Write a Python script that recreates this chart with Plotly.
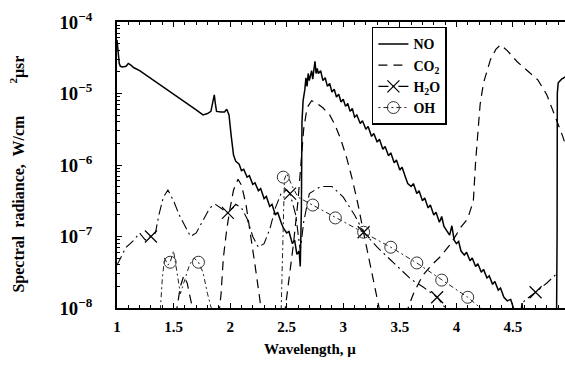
import plotly.graph_objects as go

# ---------------- data (values read as log10 of spectral radiance) ----------------
no_x = [1.00, 1.01, 1.02, 1.03, 1.05, 1.08, 1.10, 1.12, 1.15, 1.20, 1.30, 1.40, 1.50, 1.60, 1.70,
        1.76, 1.80, 1.83, 1.85, 1.86, 1.87, 1.88, 1.92, 1.95, 1.97, 1.99, 2.01, 2.03, 2.05, 2.08,
        2.10, 2.12, 2.15, 2.17, 2.20, 2.22, 2.25, 2.27, 2.30, 2.32, 2.35, 2.37, 2.40, 2.42, 2.45,
        2.47, 2.50, 2.52, 2.55, 2.57, 2.59, 2.61, 2.62, 2.63, 2.635, 2.645, 2.66, 2.67, 2.68, 2.69,
        2.70, 2.71, 2.72, 2.73, 2.74, 2.75, 2.76, 2.77, 2.78, 2.80, 2.82, 2.84, 2.86, 2.88, 2.90,
        2.92, 2.94, 2.96, 2.98, 3.00, 3.02, 3.04, 3.06, 3.08, 3.10, 3.12, 3.15, 3.17, 3.20, 3.22,
        3.25, 3.27, 3.30, 3.32, 3.35, 3.37, 3.40, 3.42, 3.45, 3.47, 3.50, 3.52, 3.55, 3.57, 3.60,
        3.62, 3.65, 3.67, 3.70, 3.72, 3.75, 3.77, 3.80, 3.82, 3.85, 3.87, 3.89, 3.92, 3.94, 3.96,
        3.98, 4.00, 4.02, 4.04, 4.07, 4.09, 4.12, 4.14, 4.17, 4.19, 4.22, 4.24, 4.27, 4.29, 4.32,
        4.34, 4.37, 4.39, 4.42, 4.45, 4.48, 4.50, 4.52, 4.56, 4.57, 4.58, 4.59, 4.885, 4.89, 4.892,
        4.90, 4.93, 4.97]
no_log = [-4.25, -4.45, -4.58, -4.62, -4.63, -4.62, -4.58, -4.60, -4.64, -4.68, -4.79, -4.90, -5.00, -5.12, -5.23,
          -5.30, -5.28, -5.25, -5.12, -5.02, -5.15, -5.25, -5.26, -5.26, -5.22, -5.30, -5.60, -5.86, -5.95, -5.99,
          -6.08, -6.06, -6.17, -6.15, -6.27, -6.25, -6.36, -6.33, -6.47, -6.44, -6.58, -6.55, -6.70, -6.66, -6.80,
          -6.88, -6.95, -6.93, -7.10, -7.05, -7.25, -7.20, -7.42, -6.60, -5.40, -5.10, -4.95, -4.78, -4.90, -4.72,
          -4.82, -4.75, -4.68, -4.80, -4.62, -4.55, -4.72, -4.65, -4.72, -4.68, -4.82, -4.78, -4.90, -4.86, -4.98,
          -4.94, -5.05, -5.01, -5.12, -5.08, -5.18, -5.14, -5.25, -5.21, -5.33, -5.30, -5.42, -5.38, -5.50, -5.46,
          -5.60, -5.56, -5.68, -5.64, -5.78, -5.74, -5.87, -5.83, -5.97, -5.93, -6.07, -6.03, -6.17, -6.26, -6.30,
          -6.26, -6.40, -6.36, -6.50, -6.46, -6.60, -6.56, -6.70, -6.66, -6.80, -6.72, -6.86, -6.93, -6.98, -6.85,
          -7.05, -7.10, -7.07, -7.20, -7.26, -7.22, -7.34, -7.30, -7.42, -7.38, -7.50, -7.46, -7.58, -7.55, -7.67,
          -7.63, -7.75, -7.72, -7.85, -7.90, -7.88, -7.98, -8.10, None, -8.10, -7.93, -8.10, -8.20, -7.00, -5.00,
          -4.85, -4.80, -4.76]

co2_x = [1.52, 1.56, 1.59, 1.62, 1.66, 1.68, None,
         1.90, 1.92, 1.94, 1.97, 2.00, 2.03, 2.07, 2.10, 2.14, 2.18, 2.22, 2.26, 2.28, None,
         2.48, 2.52, 2.56, 2.60, 2.63, 2.65, 2.68, 2.72, 2.76, 2.82, 2.88, 2.93, 2.98, 3.03, 3.08,
         3.13, 3.18, 3.23, 3.28, 3.33, None,
         3.55, 3.62, 3.70, 3.78, 3.86, 3.95, 4.04, 4.10, 4.15, 4.17, 4.21, 4.24, 4.30, 4.35, 4.39,
         4.45, 4.54, 4.63, 4.72, 4.80, 4.86, 4.94, 4.98]
co2_log = [-8.1, -7.7, -7.55, -7.65, -7.95, -8.1, None,
           -8.1, -7.8, -7.3, -6.9, -6.6, -6.35, -6.2, -6.28, -6.55, -6.95, -7.4, -7.85, -8.1, None,
           -8.1, -7.6, -7.1, -6.5, -5.9, -5.5, -5.2, -5.1, -5.13, -5.2, -5.3, -5.45, -5.65, -5.9, -6.2,
           -6.55, -6.95, -7.35, -7.7, -8.1, None,
           -8.1, -7.8, -7.55, -7.4, -7.28, -7.1, -6.87, -6.75, -6.5, -5.95, -5.15, -4.85, -4.53, -4.38, -4.32,
           -4.40, -4.56, -4.68, -4.81, -5.02, -5.27, -5.6, -5.8]

h2o_x = [1.00, 1.03, 1.08, 1.15, 1.20, 1.25, 1.30, 1.34, 1.37, 1.41, 1.45, 1.50, 1.55, 1.60, 1.65,
         1.70, 1.75, 1.82, 1.87, 1.93, 1.98, 2.05, 2.10, 2.15, 2.20, 2.25, 2.30, 2.35, 2.40, 2.45,
         2.50, 2.53, 2.58, 2.62, 2.65, 2.70, 2.80, 2.90, 3.00, 3.10, 3.18, 3.30, 3.40, 3.50, 3.60,
         3.70, 3.83, 3.95, None, 4.55, 4.60, 4.70, 4.80, 4.90]
h2o_log = [-7.40, -7.30, -7.15, -7.05, -6.95, -7.05, -7.00, -6.95, -6.70, -6.45, -6.35, -6.50, -6.70, -6.85, -7.00,
           -6.95, -6.80, -6.60, -6.55, -6.62, -6.67, -6.55, -6.60, -6.75, -7.00, -7.15, -7.10, -6.90, -6.60, -6.40,
           -6.35, -6.40, -6.70, -7.20, -6.80, -6.40, -6.30, -6.30, -6.45, -6.70, -6.94, -7.15, -7.30, -7.45, -7.60,
           -7.70, -7.85, -8.10, None, -8.10, -7.90, -7.78, -7.65, -7.50]
h2o_mark_x = [1.30, 1.98, 2.53, 3.18, 3.83, 4.70]
h2o_mark_log = [-7.00, -6.67, -6.40, -6.94, -7.85, -7.78]

oh_x = [1.38, 1.40, 1.42, 1.45, 1.47, 1.50, 1.53, 1.56, 1.60, 1.64, 1.68, 1.72, 1.76, 1.80, 1.85, None,
        2.45, 2.47, 2.48, 2.50, 2.55, 2.60, 2.73, 2.93, 3.18, 3.42, 3.65, 3.87, 4.10, 4.25]
oh_log = [-8.1, -7.6, -7.3, -7.4, -7.36, -7.2, -7.5, -7.8, -7.6, -7.4, -7.3, -7.36, -7.5, -7.8, -8.1, None,
          -8.1, -7.0, -6.2, -6.12, -6.3, -6.45, -6.56, -6.74, -6.94, -7.15, -7.37, -7.61, -7.85, -8.05]
oh_mark_x = [1.47, 1.72, 2.47, 2.73, 2.93, 3.18, 3.42, 3.65, 3.87, 4.10]
oh_mark_log = [-7.36, -7.36, -6.17, -6.56, -6.74, -6.94, -7.15, -7.37, -7.61, -7.85]

series_names = ["NO", "CO<sub>2</sub>", "H<sub>2</sub>O", "OH"]
x_title = "Wavelength, \u03bc"
y_title = "Spectral  radiance,  W/cm        <sup>2</sup>\u03bcsr"


def lin(vals):
    return [None if v is None else 10 ** v for v in vals]


# ---------------- figure ----------------
FONT = "Liberation Serif, Times New Roman, serif"
fig = go.Figure()

fig.add_trace(go.Scatter(x=no_x, y=lin(no_log), mode="lines", name=series_names[0],
                         line=dict(color="black", width=1.5), connectgaps=False))
fig.add_trace(go.Scatter(x=co2_x, y=lin(co2_log), mode="lines", name=series_names[1],
                         line=dict(color="black", width=1.2, dash="9px,6px"), connectgaps=False))

# H2O: line + markers + legend entry
fig.add_trace(go.Scatter(x=h2o_x, y=lin(h2o_log), mode="lines", showlegend=False,
                         line=dict(color="black", width=1.1, dash="10px,4px,2px,4px"), connectgaps=False))
fig.add_trace(go.Scatter(x=h2o_mark_x, y=lin(h2o_mark_log), mode="markers", showlegend=False,
                         marker=dict(symbol="x-thin-open", size=12, color="black",
                                     line=dict(color="black", width=1.2))))
fig.add_trace(go.Scatter(x=[None], y=[None], mode="lines+markers", name=series_names[2],
                         line=dict(color="black", width=1.1, dash="10px,4px,2px,4px"),
                         marker=dict(symbol="x-thin-open", size=12, color="black",
                                     line=dict(color="black", width=1.2))))

# OH: line + markers + legend entry
fig.add_trace(go.Scatter(x=oh_x, y=lin(oh_log), mode="lines", showlegend=False,
                         line=dict(color="#222", width=1.0, dash="2px,3px,5px,3px"), connectgaps=False))
fig.add_trace(go.Scatter(x=oh_mark_x, y=lin(oh_mark_log), mode="markers", showlegend=False,
                         marker=dict(symbol="circle-open", size=12, color="#333",
                                     line=dict(color="#333", width=1))))
fig.add_trace(go.Scatter(x=[None], y=[None], mode="lines+markers", name=series_names[3],
                         line=dict(color="#222", width=1.0, dash="2px,3px,5px,3px"),
                         marker=dict(symbol="circle-open", size=12, color="#333",
                                     line=dict(color="#333", width=1))))

tickfont = dict(family=FONT, size=15, color="black", weight="bold")

fig.update_xaxes(range=[1, 4.96], showgrid=False, zeroline=False, automargin=False,
                 showline=True, linecolor="black", linewidth=1.5, mirror="ticks",
                 ticks="inside", ticklen=5, tickwidth=1.2, tickcolor="black",
                 tickvals=[1, 1.5, 2, 2.5, 3, 3.5, 4, 4.5],
                 ticktext=["1", "1.5", "2", "2.5", "3", "3.5", "4", "4.5"],
                 tickfont=tickfont, ticklabelstandoff=4,
                 minor=dict(dtick=0.1, tick0=1, ticks="inside", ticklen=3, tickcolor="black", showgrid=False))

fig.update_yaxes(type="log", range=[-8, -4], showgrid=False, zeroline=False, automargin=False,
                 showline=True, linecolor="black", linewidth=1.5, mirror=False,
                 ticks="inside", ticklen=5, tickwidth=1.2, tickcolor="black",
                 dtick=1, exponentformat="power", showexponent="all",
                 tickfont=tickfont, ticklabelstandoff=20,
                 minor=dict(dtick="D1", ticks="inside", ticklen=3, tickcolor="black", showgrid=False))

fig.update_layout(
    width=565, height=373,
    margin=dict(l=117, r=0, t=22, b=65),
    paper_bgcolor="white", plot_bgcolor="white",
    font=dict(family=FONT, color="black"),
    showlegend=True,
    legend=dict(x=0.569, y=0.983, xanchor="left", yanchor="top",
                bgcolor="white", bordercolor="black", borderwidth=1.5,
                font=dict(family=FONT, size=14, color="black", weight="bold"),
                tracegroupgap=0, itemwidth=30),
    annotations=[
        dict(text=x_title, xref="paper", yref="paper", x=0.43, y=-0.143, xanchor="center", yanchor="middle",
             showarrow=False, font=dict(family=FONT, size=15, color="black", weight="bold")),
        dict(text=y_title, xref="paper", yref="paper", x=-0.221, y=0.47, xanchor="center", yanchor="middle",
             textangle=-90, showarrow=False, font=dict(family=FONT, size=16, color="black", weight="bold")),
    ],
)

# remove the default page margin so the figure fills the 565x373 window exactly
fig.write_html("out.html", config={"displayModeBar": False},
               post_script="document.body.style.margin='0';document.body.style.overflow='hidden';")
